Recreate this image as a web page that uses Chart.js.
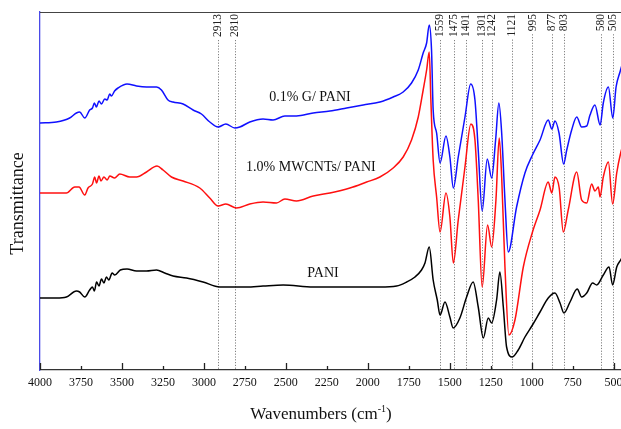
<!DOCTYPE html>
<html lang="en">
  <head>
    <meta charset="UTF-8" />
    <title>FTIR spectra</title>
    <script src="https://cdn.jsdelivr.net/npm/chart.js"></script>
    <style>
      html,
      body {
        margin: 0;
        padding: 0;
        overflow: hidden;
        background: #ffffff;
      }
      #ftir {
        display: block;
      }
    </style>
  </head>
  <body>
    <canvas id="ftir" width="640" height="429"></canvas>
    <script>
      // wavenumbers (cm-1) and transmittance (a.u.)
      const gWn = [4000,3900,3819,3778,3758,3727,3697,3680,3668,3656,3640,3625,3605,3590,3575,3564,3545,3524,3469,3411,3350,3289,3259,3219,3188,3127,3066,3015,2964,2913,2866,2811,2781,2720,2639,2578,2506,2435,2333,2231,2129,2028,1926,1845,1784,1733,1692,1662,1641,1625,1611,1601,1580,1559,1523,1499,1478,1448,1407,1372,1346,1326,1302,1271,1244,1220,1200,1183,1163,1143,1092,1041,995,949,899,877,858,833,805,786,756,725,695,664,644,614,582,563,532,505,485,461,430];
      const gT = [247,248,252,257,258,252,260,262,267,263,269,266,271,270,276,274,279,282,286,284,283,283,280,270,268,266,260,256,248,243,246,242,243,248,251,250,254,254,257,259,262,265,268,273,278,287,300,317,327,345,320,260,237,207,234,213,182,213,253,286,270,220,159,211,192,230,267,237,170,118,163,197,215,230,250,241,249,237,206,220,240,253,243,244,255,265,245,267,283,252,283,298,315];

      const mwWn = [4000,3900,3839,3788,3762,3727,3707,3680,3666,3655,3640,3628,3610,3590,3574,3545,3513,3452,3411,3350,3286,3249,3198,3127,3025,2964,2913,2866,2801,2720,2639,2557,2506,2435,2333,2231,2109,2007,1926,1845,1784,1733,1692,1662,1641,1625,1615,1601,1580,1559,1523,1499,1478,1448,1407,1371,1346,1326,1302,1269,1244,1218,1198,1183,1163,1139,1102,1051,995,949,899,877,858,832,807,777,725,695,664,634,614,593,583,563,532,506,481,457,430];
      const mwT = [177,177,177,183,183,175,182,186,193,187,194,189,193,190,194,192,196,193,193,198,204,200,193,189,182,172,164,166,162,166,168,167,171,169,174,177,182,188,193,202,213,230,253,280,300,318,270,210,173,138,177,153,107,150,203,246,230,170,83,145,123,170,232,193,103,35,50,103,138,160,188,177,193,182,138,160,198,170,167,186,179,183,173,193,208,166,197,217,232];

      const paniWn = [4000,3900,3839,3778,3758,3727,3697,3680,3668,3655,3640,3625,3610,3595,3580,3560,3544,3510,3469,3411,3350,3289,3239,3188,3106,3005,2903,2862,2791,2740,2639,2516,2333,2129,1926,1824,1763,1712,1672,1651,1625,1601,1576,1559,1529,1499,1479,1438,1397,1357,1326,1295,1265,1244,1214,1194,1173,1153,1118,1082,1041,995,949,899,858,827,803,766,722,695,664,628,603,563,528,506,481,457,430];
      const paniT = [72,72,73,79,78,73,80,83,79,88,84,91,87,93,90,97,95,100,101,99,99,100,97,94,92,88,83,83,83,83,84,85,83,83,83,84,88,93,100,107,123,90,70,55,68,53,42,52,73,88,63,32,52,47,70,98,63,23,13,20,33,45,58,72,77,67,57,68,81,73,77,87,85,95,103,85,103,110,118];

      const peaks = [2913,2810,1559,1475,1401,1301,1242,1121,995,877,803,580,505];
      const xTicks = [4000,3750,3500,3250,3000,2750,2500,2250,2000,1750,1500,1250,1000,750,500];

      const curveLabels = [
        { text: "0.1% G/ PANI", wn: 2353, t: 273 },
        { text: "1.0% MWCNTs/ PANI", wn: 2347, t: 203 },
        { text: "PANI", wn: 2273, t: 97 },
      ];

      const serif = '"Liberation Serif", "Times New Roman", serif';

      function pairs(xs, ys) {
        return xs.map((x, i) => ({ x: x, y: ys[i] }));
      }

      // dotted peak markers, under the curves
      const peakLines = {
        id: "peakLines",
        beforeDatasetsDraw(chart) {
          const ctx = chart.ctx;
          const x = chart.scales.x;
          const area = chart.chartArea;
          ctx.save();
          ctx.font = "11.5px " + serif;
          ctx.strokeStyle = "#808080";
          ctx.lineWidth = 1;
          ctx.setLineDash([1.2, 1.6]);
          peaks.forEach((p) => {
            const px = Math.round(x.getPixelForValue(p)) + 0.5;
            const w = ctx.measureText(String(p)).width;
            ctx.beginPath();
            ctx.moveTo(px, area.top + 2 + w + 3);
            ctx.lineTo(px, area.bottom);
            ctx.stroke();
          });
          ctx.restore();
        },
        afterDraw(chart) {
          const ctx = chart.ctx;
          const x = chart.scales.x;
          const y = chart.scales.y;
          const area = chart.chartArea;
          ctx.save();

          // peak labels, rotated
          ctx.font = "11.5px " + serif;
          ctx.fillStyle = "#222";
          ctx.textAlign = "right";
          ctx.textBaseline = "middle";
          peaks.forEach((p) => {
            ctx.save();
            ctx.translate(x.getPixelForValue(p), area.top + 2);
            ctx.rotate(-Math.PI / 2);
            ctx.fillText(String(p), 0, 0);
            ctx.restore();
          });

          // inward tick marks
          ctx.strokeStyle = "#222";
          ctx.lineWidth = 1.3;
          xTicks.forEach((v) => {
            const px = Math.round(x.getPixelForValue(v)) + 0.5;
            const len = v % 500 === 0 ? 7 : 4;
            ctx.beginPath();
            ctx.moveTo(px, area.bottom);
            ctx.lineTo(px, area.bottom - len);
            ctx.stroke();
          });

          // top and right frame
          ctx.strokeStyle = "#444";
          ctx.lineWidth = 1.2;
          ctx.beginPath();
          ctx.moveTo(area.left, area.top + 0.5);
          ctx.lineTo(area.right, area.top + 0.5);
          ctx.lineTo(area.right, area.bottom);
          ctx.stroke();

          // curve names
          ctx.font = "14px " + serif;
          ctx.fillStyle = "#111";
          ctx.textAlign = "center";
          ctx.textBaseline = "middle";
          curveLabels.forEach((l) => {
            ctx.fillText(l.text, x.getPixelForValue(l.wn), y.getPixelForValue(l.t));
          });

          // y title
          ctx.save();
          ctx.font = "18px " + serif;
          ctx.translate(18.5, 203.5);
          ctx.rotate(-Math.PI / 2);
          ctx.fillText("Transmittance", 0, 0);
          ctx.restore();

          // x title with superscript
          ctx.textAlign = "left";
          ctx.textBaseline = "alphabetic";
          const big = "17px " + serif;
          const small = "10px " + serif;
          ctx.font = big;
          const w1 = ctx.measureText("Wavenumbers (cm").width;
          const w3 = ctx.measureText(")").width;
          ctx.font = small;
          const w2 = ctx.measureText("-1").width;
          let sx = 321 - (w1 + w2 + w3) / 2;
          const base = 419;
          ctx.font = big;
          ctx.fillText("Wavenumbers (cm", sx, base);
          sx += w1;
          ctx.font = small;
          ctx.fillText("-1", sx, base - 7);
          sx += w2;
          ctx.font = big;
          ctx.fillText(")", sx, base);

          ctx.restore();
        },
      };

      const lineStyle = {
        borderWidth: 1.5,
        pointRadius: 0,
        fill: false,
        cubicInterpolationMode: "monotone",
      };

      new Chart(document.getElementById("ftir"), {
        type: "line",
        data: {
          datasets: [
            Object.assign({ label: "0.1% G/ PANI", data: pairs(gWn, gT), borderColor: "#1010ff" }, lineStyle),
            Object.assign({ label: "1.0% MWCNTs/ PANI", data: pairs(mwWn, mwT), borderColor: "#ff1010" }, lineStyle),
            Object.assign({ label: "PANI", data: pairs(paniWn, paniT), borderColor: "#000000" }, lineStyle),
          ],
        },
        options: {
          responsive: false,
          animation: false,
          events: [],
          layout: { padding: { top: 12, right: 10, left: 0, bottom: 0 } },
          plugins: {
            legend: { display: false },
            tooltip: { enabled: false },
          },
          scales: {
            x: {
              type: "linear",
              reverse: true,
              min: 400,
              max: 4000,
              afterBuildTicks: (s) => {
                s.ticks = xTicks.map((v) => ({ value: v }));
              },
              afterFit: (s) => {
                s.height = 59;
              },
              grid: { display: false, drawTicks: false },
              border: { display: true, color: "#333", width: 1.3 },
              ticks: {
                autoSkip: false,
                maxRotation: 0,
                padding: 6,
                color: "#111",
                font: { family: serif, size: 12 },
                callback: (v) => String(v),
              },
            },
            y: {
              min: 0,
              max: 358,
              afterFit: (s) => {
                s.width = 40;
              },
              grid: { display: false, drawTicks: false },
              border: { display: true, color: "#4a4ae8", width: 1.3 },
              ticks: { display: false },
            },
          },
        },
        plugins: [peakLines],
      });
    </script>
  </body>
</html>
